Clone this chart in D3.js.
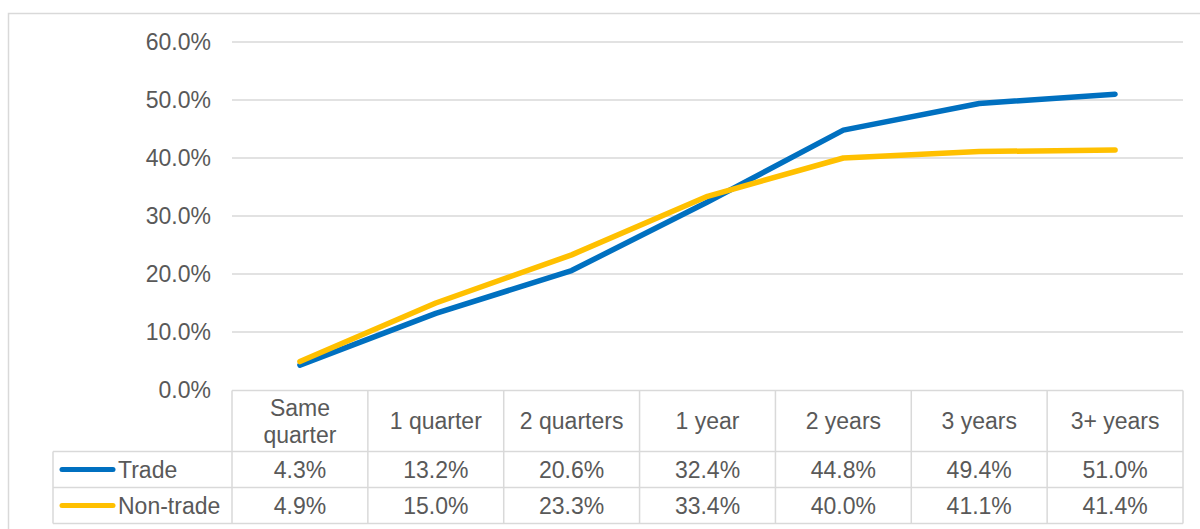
<!DOCTYPE html>
<html>
<head>
<meta charset="utf-8">
<script src="https://cdn.jsdelivr.net/npm/d3@7"></script>
<style>
  html, body { margin: 0; padding: 0; background: #fff; }
  svg { display: block; font-family: "Liberation Sans", Arial, sans-serif; }
</style>
</head>
<body>
<div id="chart"></div>
<script>
(() => {
  // ------- data -------
  const categories = ["Same quarter", "1 quarter", "2 quarters", "1 year", "2 years", "3 years", "3+ years"];
  const trade = [4.3, 13.2, 20.6, 32.4, 44.8, 49.4, 51.0];
  const nonTrade = [4.9, 15.0, 23.3, 33.4, 40.0, 41.1, 41.4];
  const yTicks = [0, 10, 20, 30, 40, 50, 60];

  const series = [
    { name: "Trade", values: trade, color: "#0070C0" },
    { name: "Non-trade", values: nonTrade, color: "#FFC000" }
  ];

  const width = 1200, height = 529;
  const textColor = "#595959";
  const gridColor = "#d9d9d9";
  const fontSize = 23;

  const svg = d3.select("#chart").append("svg")
    .attr("width", width).attr("height", height);

  // outer chart border
  svg.append("rect")
    .attr("x", 8.5).attr("y", 13.5)
    .attr("width", width).attr("height", height)
    .attr("fill", "none").attr("stroke", gridColor).attr("stroke-width", 1.5);

  const x = d3.scaleBand().domain(categories).range([232, 1183]);
  const y = d3.scaleLinear().domain([0, 60]).range([390, 42]);

  // y axis + gridlines
  const yAxis = d3.axisLeft(y)
    .tickValues(yTicks)
    .tickFormat(d => d.toFixed(1) + "%")
    .tickSize(0)
    .tickPadding(21);

  svg.append("g")
    .attr("transform", `translate(${x.range()[0]},0)`)
    .call(yAxis)
    .call(g => g.select(".domain").remove())
    .call(g => g.selectAll("text")
      .attr("fill", textColor)
      .style("font-size", fontSize + "px")
      .style("font-family", "'Liberation Sans', Arial, sans-serif"));

  svg.append("g")
    .selectAll("line")
    .data(yTicks.filter(d => d > 0))
    .join("line")
    .attr("x1", x.range()[0]).attr("x2", x.range()[1])
    .attr("y1", d => y(d)).attr("y2", d => y(d))
    .attr("stroke", gridColor).attr("stroke-width", 1.5);

  // data table
  const tableTop = y(0) + 0.5;
  const headerH = 61, rowH = 36;
  const legendLeft = 53;
  const table = svg.append("g");
  const tableBottom = tableTop + headerH + rowH * series.length;

  // horizontal borders
  table.append("line")
    .attr("x1", x.range()[0]).attr("x2", x.range()[1])
    .attr("y1", tableTop).attr("y2", tableTop);
  series.forEach((s, i) => {
    table.append("line")
      .attr("x1", legendLeft).attr("x2", x.range()[1])
      .attr("y1", tableTop + headerH + rowH * i).attr("y2", tableTop + headerH + rowH * i);
  });
  table.append("line")
    .attr("x1", legendLeft).attr("x2", x.range()[1])
    .attr("y1", tableBottom).attr("y2", tableBottom);

  // vertical borders
  table.append("line")
    .attr("x1", legendLeft).attr("x2", legendLeft)
    .attr("y1", tableTop + headerH).attr("y2", tableBottom);
  const edges = categories.map(c => x(c)).concat([x.range()[1]]);
  table.selectAll("line.v")
    .data(edges)
    .join("line")
    .attr("class", "v")
    .attr("x1", d => d).attr("x2", d => d)
    .attr("y1", tableTop).attr("y2", tableBottom);

  table.selectAll("line")
    .attr("stroke", gridColor).attr("stroke-width", 1.5);

  // header labels
  const header = table.selectAll("text.h")
    .data(categories)
    .join("text")
    .attr("class", "h")
    .attr("x", d => x(d) + x.bandwidth() / 2)
    .attr("y", tableTop + headerH / 2)
    .attr("text-anchor", "middle")
    .attr("fill", textColor)
    .style("font-size", fontSize + "px");

  header.each(function(d) {
    const words = d === "Same quarter" ? ["Same", "quarter"] : [d];
    const t = d3.select(this);
    const lh = 27;
    words.forEach((w, i) => {
      t.append("tspan")
        .attr("x", x(d) + x.bandwidth() / 2)
        .attr("y", tableTop + headerH / 2 + (i - (words.length - 1) / 2) * lh)
        .attr("dy", "0.35em")
        .text(w);
    });
  });

  // value rows
  series.forEach((s, i) => {
    const cy = tableTop + headerH + rowH * i + rowH / 2;
    table.append("line")
      .attr("x1", 62).attr("x2", 113)
      .attr("y1", cy).attr("y2", cy)
      .attr("stroke", s.color).attr("stroke-width", 5)
      .attr("stroke-linecap", "round");
    table.append("text")
      .attr("x", 118).attr("y", cy).attr("dy", "0.35em")
      .attr("fill", textColor)
      .style("font-size", fontSize + "px")
      .text(s.name);
    table.selectAll(null)
      .data(s.values)
      .join("text")
      .attr("x", (d, j) => x(categories[j]) + x.bandwidth() / 2)
      .attr("y", cy).attr("dy", "0.35em")
      .attr("text-anchor", "middle")
      .attr("fill", textColor)
      .style("font-size", fontSize + "px")
      .text(d => d.toFixed(1) + "%");
  });

  // lines
  const line = d3.line()
    .x((d, j) => x(categories[j]) + x.bandwidth() / 2)
    .y(d => y(d));

  svg.append("g")
    .selectAll("path")
    .data(series)
    .join("path")
    .attr("fill", "none")
    .attr("stroke", d => d.color)
    .attr("stroke-width", 5.5)
    .attr("stroke-linecap", "round")
    .attr("stroke-linejoin", "round")
    .attr("d", d => line(d.values));
})();
</script>
</body>
</html>
